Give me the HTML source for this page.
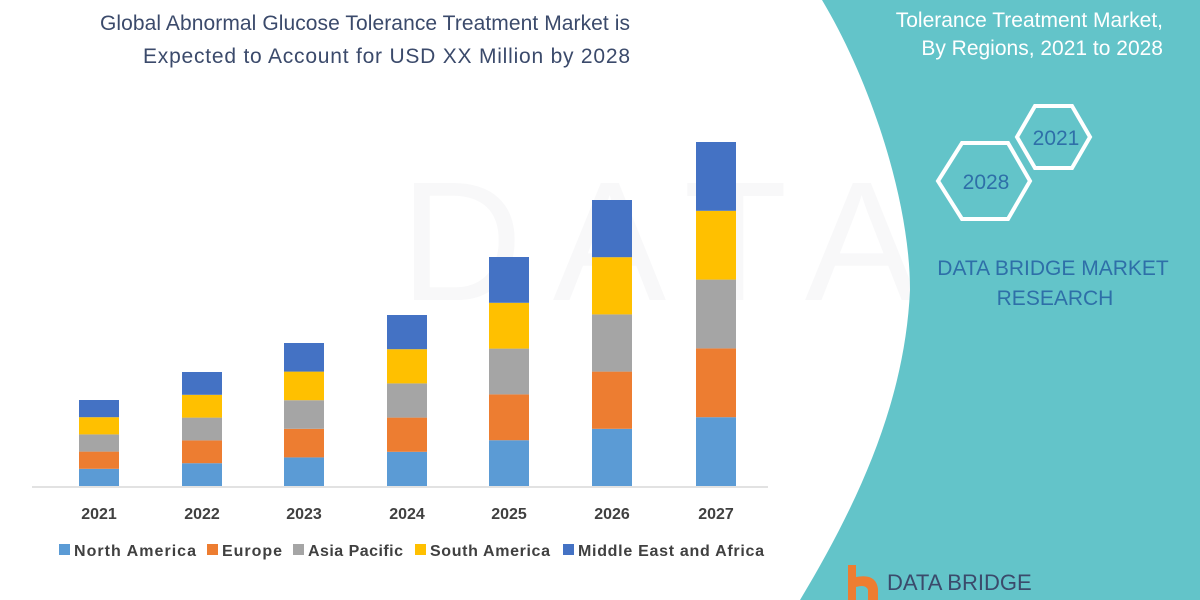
<!DOCTYPE html>
<html><head><meta charset="utf-8"><style>
body{margin:0;width:1200px;height:600px;overflow:hidden;background:#fff;font-family:"Liberation Sans",sans-serif}
</style></head><body>
<svg width="1200" height="600" xmlns="http://www.w3.org/2000/svg" style="position:absolute;left:0;top:0">
<rect width="1200" height="600" fill="#fff"/>
<text x="400" y="300" font-size="170" fill="#f8f8f9" font-family="Liberation Sans" letter-spacing="30">DATA BRIDGE</text>
<path d="M822,0 C870,80 910,200 910,290 C905,400 860,500 800,600 L1200,600 L1200,0 Z" fill="#63c4c9"/>
<text x="1163" y="27" font-size="21" fill="#fff" text-anchor="end">Tolerance Treatment Market,</text>
<text x="1163" y="55" font-size="21" fill="#fff" text-anchor="end">By Regions, 2021 to 2028</text>
<polygon points="1035,106 1072,106 1090,137 1072,168 1035,168 1017,137" fill="none" stroke="#fff" stroke-width="4"/>
<text x="1056" y="145" font-size="21" fill="#2e6fa8" text-anchor="middle">2021</text>
<polygon points="962,143 1008,143 1030,181 1008,219 962,219 938,181" fill="none" stroke="#fff" stroke-width="4"/>
<text x="986" y="189" font-size="21" fill="#2e6fa8" text-anchor="middle">2028</text>
<text x="1053" y="275" font-size="21" fill="#2e6fa8" text-anchor="middle">DATA BRIDGE MARKET</text>
<text x="1055" y="305" font-size="21" fill="#2e6fa8" text-anchor="middle">RESEARCH</text>
<path d="M848,565 h8 v12 q20,-4 22,12 v11 h-10 v-10 q-2,-6 -12,-3 v13 h-8z" fill="#ee7d31"/>
<text x="887" y="590" font-size="22" fill="#3b4a6b">DATA BRIDGE</text>
<text x="100" y="30" font-size="21" fill="#3b4a6b" textLength="530">Global Abnormal Glucose Tolerance Treatment Market is</text>
<text x="143" y="63" font-size="21" fill="#3b4a6b" textLength="487">Expected to Account for USD XX Million by 2028</text>
<line x1="32" y1="487" x2="768" y2="487" stroke="#d9d9d9" stroke-width="1.5"/>
<g id="bars"></g>
<g font-size="16" font-weight="bold" fill="#404040" text-anchor="middle">
<text x="99" y="519">2021</text><text x="202" y="519">2022</text><text x="304" y="519">2023</text><text x="407" y="519">2024</text><text x="509" y="519">2025</text><text x="612" y="519">2026</text><text x="716" y="519">2027</text>
</g>
<g font-size="16" font-weight="bold" fill="#404040">
<rect x="59" y="544" width="11" height="11" fill="#5b9bd5"/><text x="74" y="556" textLength="122">North America</text>
<rect x="207" y="544" width="11" height="11" fill="#ed7d31"/><text x="222" y="556" textLength="60">Europe</text>
<rect x="293" y="544" width="11" height="11" fill="#a5a5a5"/><text x="308" y="556" textLength="95">Asia Pacific</text>
<rect x="415" y="544" width="11" height="11" fill="#ffc000"/><text x="430" y="556" textLength="120">South America</text>
<rect x="563" y="544" width="11" height="11" fill="#4472c4"/><text x="578" y="556" textLength="186">Middle East and Africa</text>
</g>
</svg>
<script>
var xs=[99,202,304,407,509,612,716],tops=[400,372,343,315,257,200,142],base=486;
var cols=["#5b9bd5","#ed7d31","#a5a5a5","#ffc000","#4472c4"];
var g=document.getElementById("bars"),s="";
for(var i=0;i<7;i++){var h=(base-tops[i])/5;for(var k=0;k<5;k++){var y=base-h*(k+1);
s+='<rect x="'+(xs[i]-20)+'" y="'+y+'" width="40" height="'+h+'" fill="'+cols[k]+'"/>';}}
g.innerHTML=s;
</script>
</body></html>
